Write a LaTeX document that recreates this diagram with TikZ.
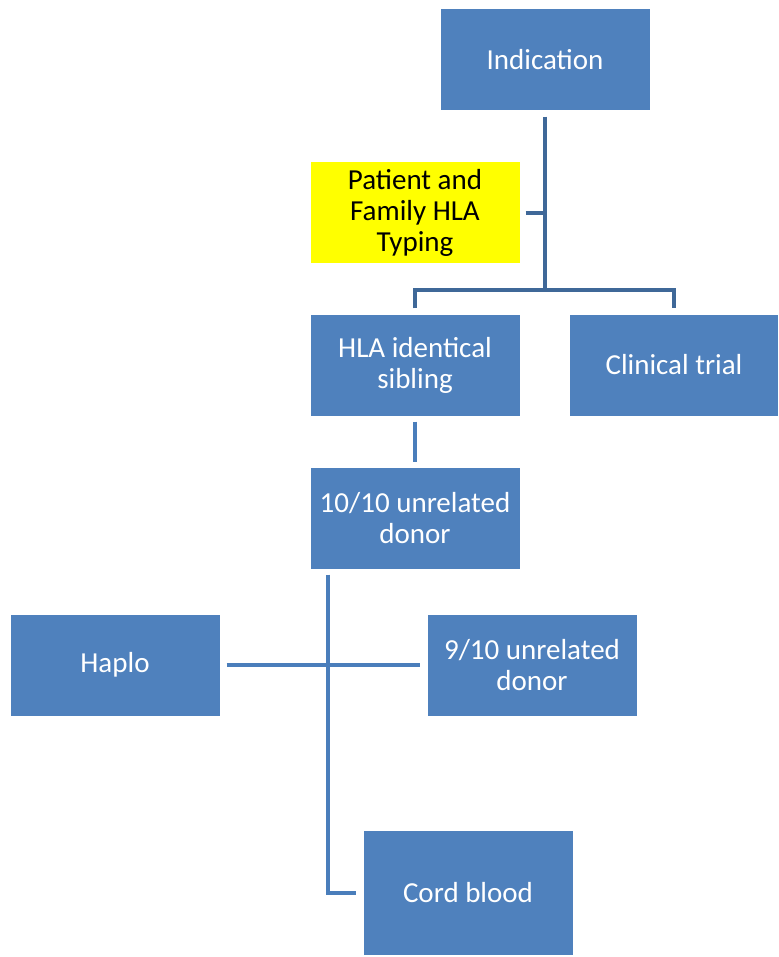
\documentclass[tikz,border=0pt]{standalone}
\usepackage{fontspec}
\setmainfont{Carlito}
\usepackage{tikz}
\usetikzlibrary{positioning,calc}
\usepackage{xcolor}
\definecolor{boxblue}{HTML}{4F81BD}
\definecolor{linedark}{HTML}{3F6898}
\definecolor{linemid}{HTML}{4A7EBB}
\definecolor{boxyellow}{HTML}{FFFF00}

\begin{document}
\begin{tikzpicture}[
  x=1pt, y=-1pt,
  every node/.style={minimum width=209pt, minimum height=101pt, inner sep=0pt, align=center, font=\fontsize{29}{31}\selectfont},
  blue box/.style={fill=boxblue, text=white},
  link/.style={line width=4.8pt, draw=linedark},
  link2/.style={line width=4.8pt, draw=linemid},
]
  \useasboundingbox (0,0) rectangle (778,957);

  \node[blue box] (ind) at (545,60) {Indication};
  \node[fill=boxyellow, text=black] (typing) at (415,213) {Patient and\\Family HLA\\Typing};
  \node[blue box] (sib) at (415,365) {HLA identical\\sibling};
  \node[blue box, minimum width=208pt] (trial) at (674,365) {Clinical trial};
  \node[blue box] (ur10) at (415,518) {10/10 unrelated\\donor};
  \node[blue box] (haplo) at (115,665) {Haplo};
  \node[blue box] (ur9) at (532,665) {9/10 unrelated\\donor};
  \node[blue box, minimum height=124pt] (cord) at (468,893) {Cord blood};

  \coordinate (split) at (545,290);

  \draw[link, shorten <=6pt] (ind.south) -- (split);
  \draw[link, shorten <=6pt] (typing.east) -- (typing.east -| split);
  \draw[link, shorten <=6pt, shorten >=6pt] (sib.north) |- (split) -| (trial.north);
  \draw[link2, shorten <=6pt, shorten >=5pt] (sib) -- (ur10);
  \draw[link2, shorten <=6pt, shorten >=7pt] ([xshift=-87pt]ur10.south) |- (cord.west);
  \draw[link2, shorten <=7pt, shorten >=7pt] (haplo.east) -- (ur9.west);
\end{tikzpicture}
\end{document}
